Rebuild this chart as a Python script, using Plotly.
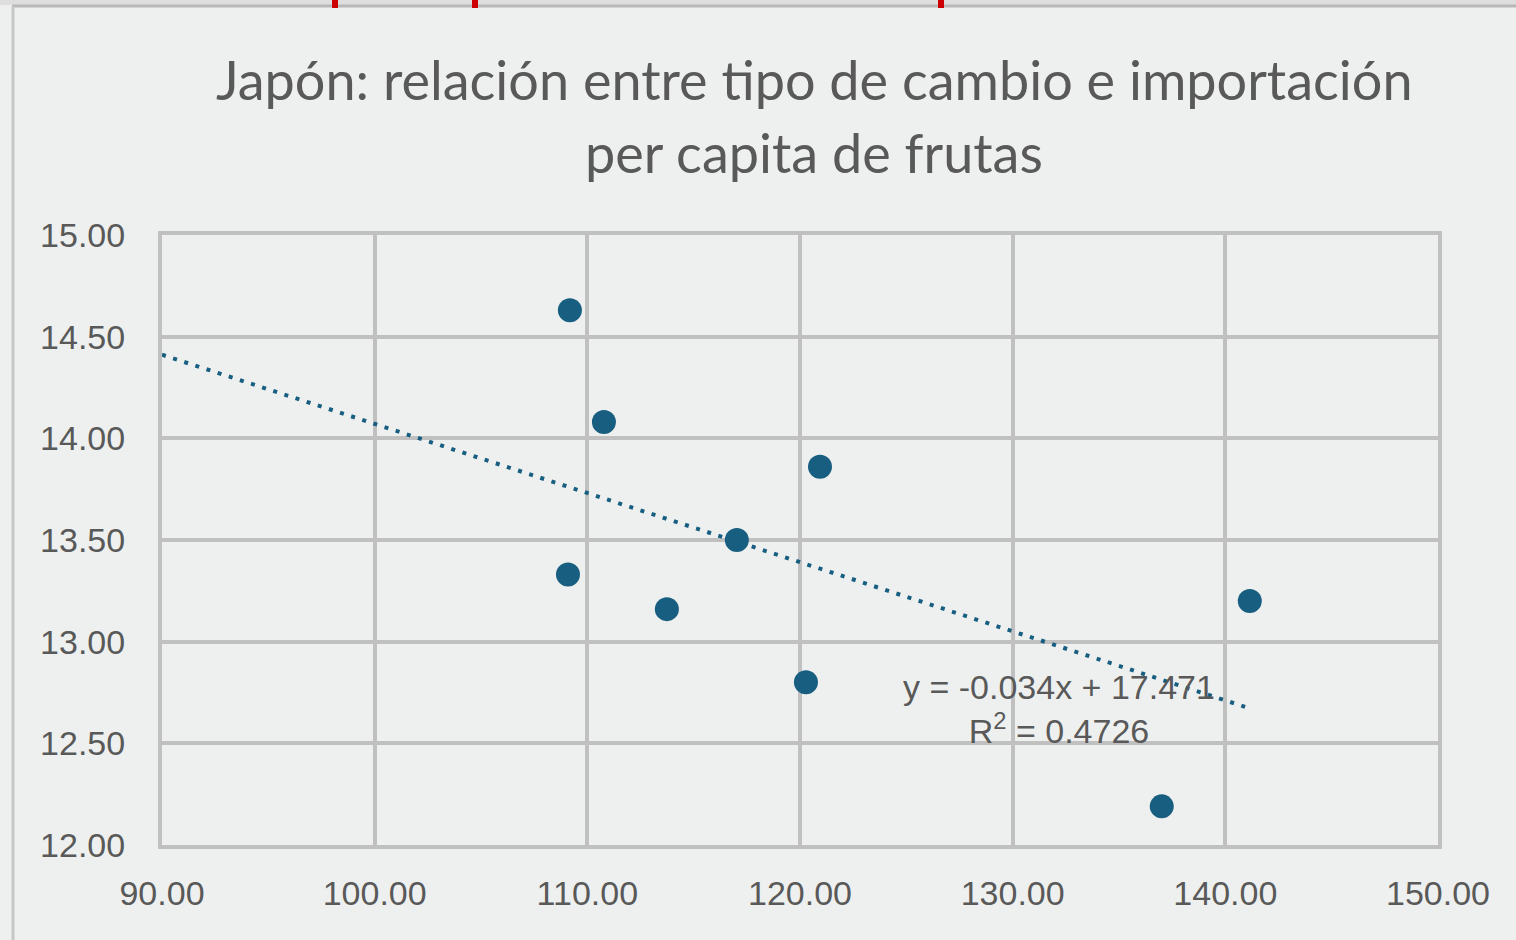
import plotly.graph_objects as go

# ---- data ----
tipo_cambio = [109.18, 110.78, 120.94, 117.03, 109.09, 113.74, 120.28, 141.15, 137.01]
importacion_pc = [14.63, 14.08, 13.86, 13.50, 13.33, 13.16, 12.80, 13.20, 12.19]
trend_slope = -0.034
trend_intercept = 17.471
r_squared = 0.4726
x_range = [90, 150]
y_range = [12, 15]
x_ticks = [90, 100, 110, 120, 130, 140, 150]
y_ticks = [12.0, 12.5, 13.0, 13.5, 14.0, 14.5, 15.0]
title_lines = ["Japón: relación entre tipo de cambio e importación", "per capita de frutas"]

# ---- styling ----
BG = "#eef0ef"
GRID = "#c0c0c0"
TEXT = "#595959"
MARK = "#175e80"

W, H = 1516, 940
L, R, T, B = 162, 78, 235, 95
PW, PH = W - L - R, H - T - B


def px_x(px):
    return (px - L) / PW


def px_y(py):
    return (H - B - py) / PH


fig = go.Figure()

trend_x = [x_range[0], max(tipo_cambio)]
trend_y = [trend_slope * v + trend_intercept for v in trend_x]
fig.add_trace(go.Scatter(
    x=trend_x, y=trend_y, mode="lines",
    line=dict(color=MARK, width=4, dash="4px,7.7px"),
    hoverinfo="skip", showlegend=False,
))

fig.add_trace(go.Scatter(
    x=tipo_cambio, y=importacion_pc, mode="markers",
    marker=dict(color=MARK, size=24, line=dict(width=0)),
    showlegend=False,
))

axis_common = dict(
    showgrid=True, gridcolor=GRID, gridwidth=4,
    showline=True, linecolor=GRID, linewidth=4, mirror=True,
    zeroline=False, ticks="",
    tickfont=dict(family="Liberation Sans, Arial, sans-serif", size=34, color=TEXT),
)

fig.update_xaxes(range=x_range, tickvals=x_ticks,
                 ticktext=[f"{v:.2f}" for v in x_ticks],
                 ticklabelstandoff=15, **axis_common)
fig.update_yaxes(range=y_range, tickvals=y_ticks,
                 ticktext=[f"{v:.2f}" for v in y_ticks],
                 ticklabelstandoff=26, **axis_common)

# title (two lines)
title_font = dict(family="Lato, Noto Sans, sans-serif", size=54, color=TEXT)
fig.add_annotation(text=title_lines[0], xref="paper", yref="paper",
                   x=px_x(814), y=px_y(79), showarrow=False,
                   xanchor="center", yanchor="middle", font=title_font)
fig.add_annotation(text=title_lines[1], xref="paper", yref="paper",
                   x=px_x(814), y=px_y(153), showarrow=False,
                   xanchor="center", yanchor="middle", font=title_font)

# trendline equation
fig.add_annotation(
    text=f"y = {trend_slope:.3f}x + {trend_intercept:.3f}<br>R<sup>2</sup> = {r_squared:.4f}",
    xref="paper", yref="paper", x=px_x(1059), y=px_y(709),
    showarrow=False, xanchor="center", yanchor="middle", align="center",
    font=dict(family="Liberation Sans, Arial, sans-serif", size=34, color=TEXT),
)

# frame of the chart area and small red marks at the top edge
shapes = [
    dict(type="rect", xref="paper", yref="paper", x0=px_x(0), x1=px_x(W),
         y0=px_y(0), y1=px_y(5), fillcolor="#dedede", line=dict(width=0), layer="below"),
    dict(type="line", xref="paper", yref="paper", x0=px_x(12), x1=px_x(W),
         y0=px_y(6), y1=px_y(6), line=dict(color="#b8b8b8", width=3)),
    dict(type="line", xref="paper", yref="paper", x0=px_x(13), x1=px_x(13),
         y0=px_y(6), y1=px_y(H), line=dict(color="#c6c6c6", width=3)),
]
for cx in (335, 475, 941):
    shapes.append(dict(type="rect", xref="paper", yref="paper",
                       x0=px_x(cx - 3), x1=px_x(cx + 3), y0=px_y(0), y1=px_y(8),
                       fillcolor="#cc0000", line=dict(width=0)))
fig.update_layout(shapes=shapes)

fig.update_layout(
    width=W, height=H,
    margin=dict(l=L, r=R, t=T, b=B, pad=0),
    paper_bgcolor=BG, plot_bgcolor=BG,
    showlegend=False,
)

fig.write_html("out.html", config={"displayModeBar": False},
               post_script="document.body.style.margin='0';document.body.style.overflow='hidden';")
